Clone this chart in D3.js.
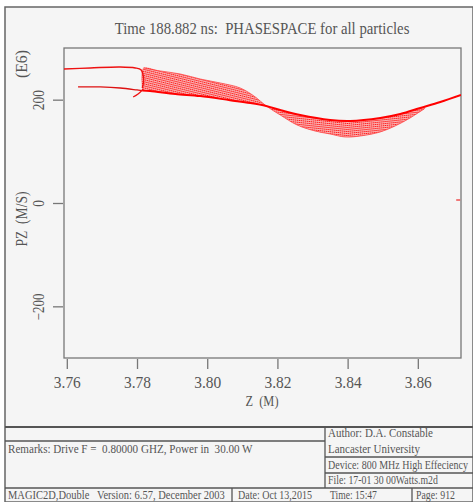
<!DOCTYPE html>
<html>
<head>
<meta charset="utf-8">
<script src="https://cdn.jsdelivr.net/npm/d3@7"></script>
<style>
  body { margin: 0; background: #fff; }
  svg text { font-family: "Liberation Serif", "DejaVu Serif", serif; fill: #555; white-space: pre; }
</style>
</head>
<body>
<script>
// axis ticks
var zTicks = [3.76, 3.78, 3.80, 3.82, 3.84, 3.86];
var pzTicks = [200, 0, -200];

// particle traces, [Z (m), PZ (E6 m/s)]
var upperTail = [[3.7592, 259.4], [3.7667, 261.4], [3.7752, 263.3], [3.7795, 261.4],
                 [3.7812, 257.5], [3.7818, 245], [3.7818, 232], [3.7815, 222.6]];
var lowerTail = [[3.7632, 224.6], [3.7695, 224.6], [3.7752, 222.6], [3.7800, 218.8], [3.7815, 217.5]];
var spurTail = [[3.7818, 220.7], [3.7803, 211], [3.7789, 205.2]];
var spine = [[3.7815, 217.5], [3.7837, 216.8], [3.7909, 211], [3.7980, 207], [3.8065, 199],
             [3.8122, 193.6], [3.8168, 187.8], [3.8208, 180], [3.8265, 170.4], [3.8350, 160.7],
             [3.8407, 158.8], [3.8493, 164.6], [3.8550, 172.3], [3.8607, 183.9], [3.8664, 195.5],
             [3.8723, 209]];
var fanEdge = [[3.7815, 217.5], [3.7818, 261.4], [3.7866, 255.6], [3.7923, 249.7], [3.7980, 240],
               [3.8037, 232.3], [3.8094, 222.6], [3.8137, 205.2], [3.8168, 187.8], [3.8208, 170.4],
               [3.8256, 151], [3.8307, 139.4], [3.8350, 133.6], [3.8393, 127.8], [3.8436, 129.7],
               [3.8493, 137.5], [3.8535, 149], [3.8578, 164.6], [3.8621, 183.9]];
var strayPoints = [[3.8715, 5.8]];
var pinchZ = 3.8168;

var titleText = "Time 188.882 ns:  PHASESPACE for all particles";
var remarks = "Remarks: Drive F =  0.80000 GHZ, Power in  30.00 W";
var authorLines = ["Author: D.A. Constable", "Lancaster University"];
var deviceText = "Device: 800 MHz High Effeciency";
var fileText = "File: 17-01 30 00Watts.m2d";
var footerCells = ["MAGIC2D,Double   Version: 6.57, December 2003", "Date: Oct 13,2015",
                   "Time: 15:47", "Page: 912"];

var w = 473, h = 502;

var svg = d3.select("body").append("svg")
    .attr("width", w)
    .attr("height", h);

svg.append("rect")
    .attr("x", 5).attr("y", 7)
    .attr("width", w - 5).attr("height", h - 7)
    .attr("fill", "#f5f5f5")
    .attr("stroke", "#666")
    .attr("stroke-width", 1.5);

var x = d3.scaleLinear().domain([3.7592, 3.8723]).range([64, 461]);
var y = d3.scaleLinear().domain([-300, 300]).range([358, 48]);

// squeeze a text horizontally to a given width (narrow printer style glyphs)
function squeeze(sel, width, pre) {
    sel.each(function () {
        var s = width / this.getComputedTextLength();
        d3.select(this).attr("transform", (pre || "") + " scale(" + s + ",1)");
    });
}

// stripes for the particle fan
var defs = svg.append("defs");
function stripes(id, angle) {
    var p = defs.append("pattern")
        .attr("id", id)
        .attr("patternUnits", "userSpaceOnUse")
        .attr("width", 4).attr("height", 2)
        .attr("patternTransform", "rotate(" + angle + ")");
    p.append("rect").attr("width", 4).attr("height", 2).attr("fill", "rgba(255,90,90,0.42)");
    p.append("line").attr("x1", 0).attr("x2", 4).attr("y1", 0.5).attr("y2", 0.5)
        .attr("stroke", "#f00").attr("stroke-width", 0.9).attr("stroke-dasharray", "1.4 0.6");
}
stripes("fanL", 14);
stripes("fanR", 6);

defs.append("clipPath").attr("id", "clipL").append("rect")
    .attr("x", 0).attr("y", 0).attr("width", x(pinchZ)).attr("height", h);
defs.append("clipPath").attr("id", "clipR").append("rect")
    .attr("x", x(pinchZ)).attr("y", 0).attr("width", w).attr("height", h);
defs.append("clipPath").attr("id", "clipPlot").append("rect")
    .attr("x", 64).attr("y", 48).attr("width", 397).attr("height", 310);

// title
svg.append("text")
    .attr("text-anchor", "middle")
    .attr("font-size", 17)
    .text(titleText)
    .call(squeeze, 295, "translate(262,34)");

// plot frame
svg.append("rect")
    .attr("x", 64).attr("y", 48)
    .attr("width", 397).attr("height", 310)
    .attr("fill", "none")
    .attr("stroke", "#777")
    .attr("stroke-width", 1.3);

// x axis
var xAxis = svg.append("g")
    .attr("transform", "translate(0,359)")
    .call(d3.axisBottom(x).tickValues(zTicks).tickFormat(d3.format(".2f")).tickSize(10));
xAxis.select(".domain").remove();
xAxis.selectAll("line").attr("stroke", "#777").attr("stroke-width", 1.3);
xAxis.selectAll("text")
    .attr("font-size", 16).attr("fill", "#555")
    .attr("font-family", null)
    .attr("y", 0)
    .call(squeeze, 27, "translate(0,18)");

svg.append("text")
    .attr("text-anchor", "middle")
    .attr("font-size", 15)
    .text("Z  (M)")
    .call(squeeze, 33, "translate(262,406)");

// y axis
var yAxis = svg.append("g")
    .attr("transform", "translate(63,0)")
    .call(d3.axisLeft(y).tickValues(pzTicks).tickSize(10));
yAxis.select(".domain").remove();
yAxis.selectAll("line").attr("stroke", "#777").attr("stroke-width", 1.3);
yAxis.selectAll("text")
    .attr("font-size", 16).attr("fill", "#555")
    .attr("font-family", null)
    .attr("text-anchor", "middle")
    .attr("x", 0).attr("dy", "0.35em")
    .each(function (d) {
        d3.select(this).call(squeeze, String(d).length * 6.7, "translate(-25,0) rotate(-90)");
    });

svg.append("text")
    .attr("text-anchor", "middle")
    .attr("font-size", 16)
    .text("(E6)")
    .call(squeeze, 28, "translate(27,64) rotate(-90)");
svg.append("text")
    .attr("text-anchor", "middle")
    .attr("font-size", 16)
    .text("PZ  (M/S)")
    .call(squeeze, 55, "translate(27,219) rotate(-90)");

// particles
var line = d3.line()
    .x(function (d) { return x(d[0]); })
    .y(function (d) { return y(d[1]); })
    .curve(d3.curveCatmullRom);

var plot = svg.append("g").attr("clip-path", "url(#clipPlot)");

// fan outline: outer edge then back along the spine
var spineInFan = spine.filter(function (d) { return d[0] <= 3.8621; }).reverse();
var fanShape = fanEdge.concat(spineInFan);
plot.append("path").attr("d", line(fanShape) + "Z")
    .attr("fill", "url(#fanL)").attr("clip-path", "url(#clipL)");
plot.append("path").attr("d", line(fanShape) + "Z")
    .attr("fill", "url(#fanR)").attr("clip-path", "url(#clipR)");

plot.append("path").attr("d", line(fanEdge.slice(1)))
    .attr("fill", "none").attr("stroke", "#f44").attr("stroke-width", 0.8);
plot.append("path").attr("d", line(upperTail))
    .attr("fill", "none").attr("stroke", "#e11").attr("stroke-width", 1.4);
plot.append("path").attr("d", line(lowerTail))
    .attr("fill", "none").attr("stroke", "#d11").attr("stroke-width", 1.3);
plot.append("path").attr("d", line(spurTail))
    .attr("fill", "none").attr("stroke", "#e11").attr("stroke-width", 1.2);
plot.append("path").attr("d", line(spine))
    .attr("fill", "none").attr("stroke", "#f00").attr("stroke-width", 2);

svg.selectAll(".stray")
    .data(strayPoints)
    .enter().append("rect")
    .attr("class", "stray")
    .attr("x", function (d) { return x(d[0]) - 2; })
    .attr("y", function (d) { return y(d[1]) - 0.7; })
    .attr("width", 4).attr("height", 1.4)
    .attr("fill", "#e44");

// footer boxes
var footer = svg.append("g").attr("stroke", "#555").attr("stroke-width", 1.3);
footer.append("line").attr("x1", 5).attr("x2", w).attr("y1", 427).attr("y2", 427).attr("stroke-width", 1.8);
footer.append("line").attr("x1", 5).attr("x2", 325).attr("y1", 441).attr("y2", 441);
footer.append("line").attr("x1", 325).attr("x2", 325).attr("y1", 427).attr("y2", 488);
footer.append("line").attr("x1", 325).attr("x2", w).attr("y1", 457).attr("y2", 457);
footer.append("line").attr("x1", 325).attr("x2", w).attr("y1", 473).attr("y2", 473);
footer.append("line").attr("x1", 5).attr("x2", w).attr("y1", 488).attr("y2", 488);
footer.append("line").attr("x1", 232).attr("x2", 232).attr("y1", 488).attr("y2", h);
footer.append("line").attr("x1", 412).attr("x2", 412).attr("y1", 488).attr("y2", h);

function footText(str, tx, ty, len) {
    svg.append("text")
        .attr("font-size", 12)
        .attr("fill", "#444")
        .text(str)
        .call(squeeze, len, "translate(" + tx + "," + ty + ")");
}
footText(remarks, 8, 453, 245);
footText(authorLines[0], 328, 437, 105);
footText(authorLines[1], 328, 453, 92);
footText(deviceText, 328, 469, 140);
footText(fileText, 328, 484, 110);
footText(footerCells[0], 8, 499, 217);
footText(footerCells[1], 238, 499, 74);
footText(footerCells[2], 330, 499, 47);
footText(footerCells[3], 416, 499, 39);
</script>
</body>
</html>
